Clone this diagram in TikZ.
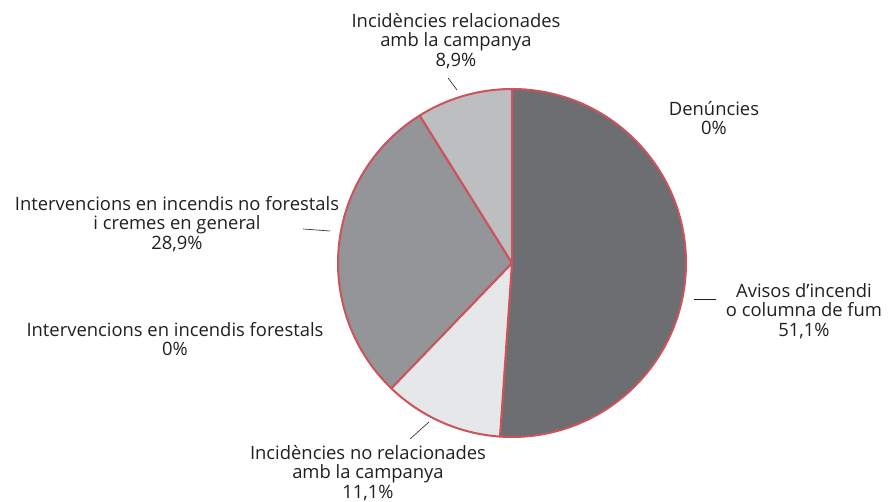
\documentclass[tikz,border=0pt]{standalone}
\usepackage{fontspec}
\setmainfont{Open Sans}
\definecolor{txt}{HTML}{231F20}
\definecolor{cA}{HTML}{6D6E71}
\definecolor{cB}{HTML}{E6E7E8}
\definecolor{cC}{HTML}{939598}
\definecolor{cD}{HTML}{BCBEC0}
\definecolor{edge}{HTML}{CC525C}
\begin{document}
\begin{tikzpicture}[x=1pt,y=-1pt,
  lbl/.style={align=center,inner sep=0pt,text=txt,font=\fontsize{18.4}{19.3}\selectfont},
  slice/.style={draw=edge,line width=2pt,line join=round},
  lead/.style={draw=txt,line width=0.6pt}]
\useasboundingbox (0,0) rectangle (889,502);
\begin{scope}[shift={(512,263)},yscale=-1]
  \filldraw[slice,fill=cA] (0,0) -- (90:174) arc[start angle=90,end angle=-93.96,radius=174] -- cycle;
  \filldraw[slice,fill=cB] (0,0) -- (-93.96:174) arc[start angle=-93.96,end angle=-133.92,radius=174] -- cycle;
  \filldraw[slice,fill=cC] (0,0) -- (-133.92:174) arc[start angle=-133.92,end angle=-237.96,radius=174] -- cycle;
  \filldraw[slice,fill=cD] (0,0) -- (-237.96:174) arc[start angle=-237.96,end angle=-270,radius=174] -- cycle;
\end{scope}
\node[lbl] (rel) at (456,41) {Incidències relacionades\\amb la campanya\\8,9\%};
\node[lbl] (den) at (714,118) {Denúncies\\0\%};
\node[lbl] (nof) at (177,224) {Intervencions en incendis no forestals\\i cremes en general\\28,9\%};
\node[lbl] (for) at (175,339) {Intervencions en incendis forestals\\0\%};
\node[lbl] (avi) at (804,311) {Avisos d’incendi\\o columna de fum\\51,1\%};
\node[lbl] (norel) at (368,473) {Incidències no relacionades\\amb la campanya\\11,1\%};
\coordinate (r1) at (448,78); \coordinate (r2) at (457,90);
\coordinate (n1) at (303,229); \coordinate (n2) at (330,231);
\coordinate (a1) at (694,299); \coordinate (a2) at (716,299);
\coordinate (b1) at (410,439); \coordinate (b2) at (429,422);
\draw[lead] (r1) -- (r2);
\draw[lead] (n1) -- (n2);
\draw[lead] (a1) -- (a2);
\draw[lead] (b1) -- (b2);
\end{tikzpicture}
\end{document}
